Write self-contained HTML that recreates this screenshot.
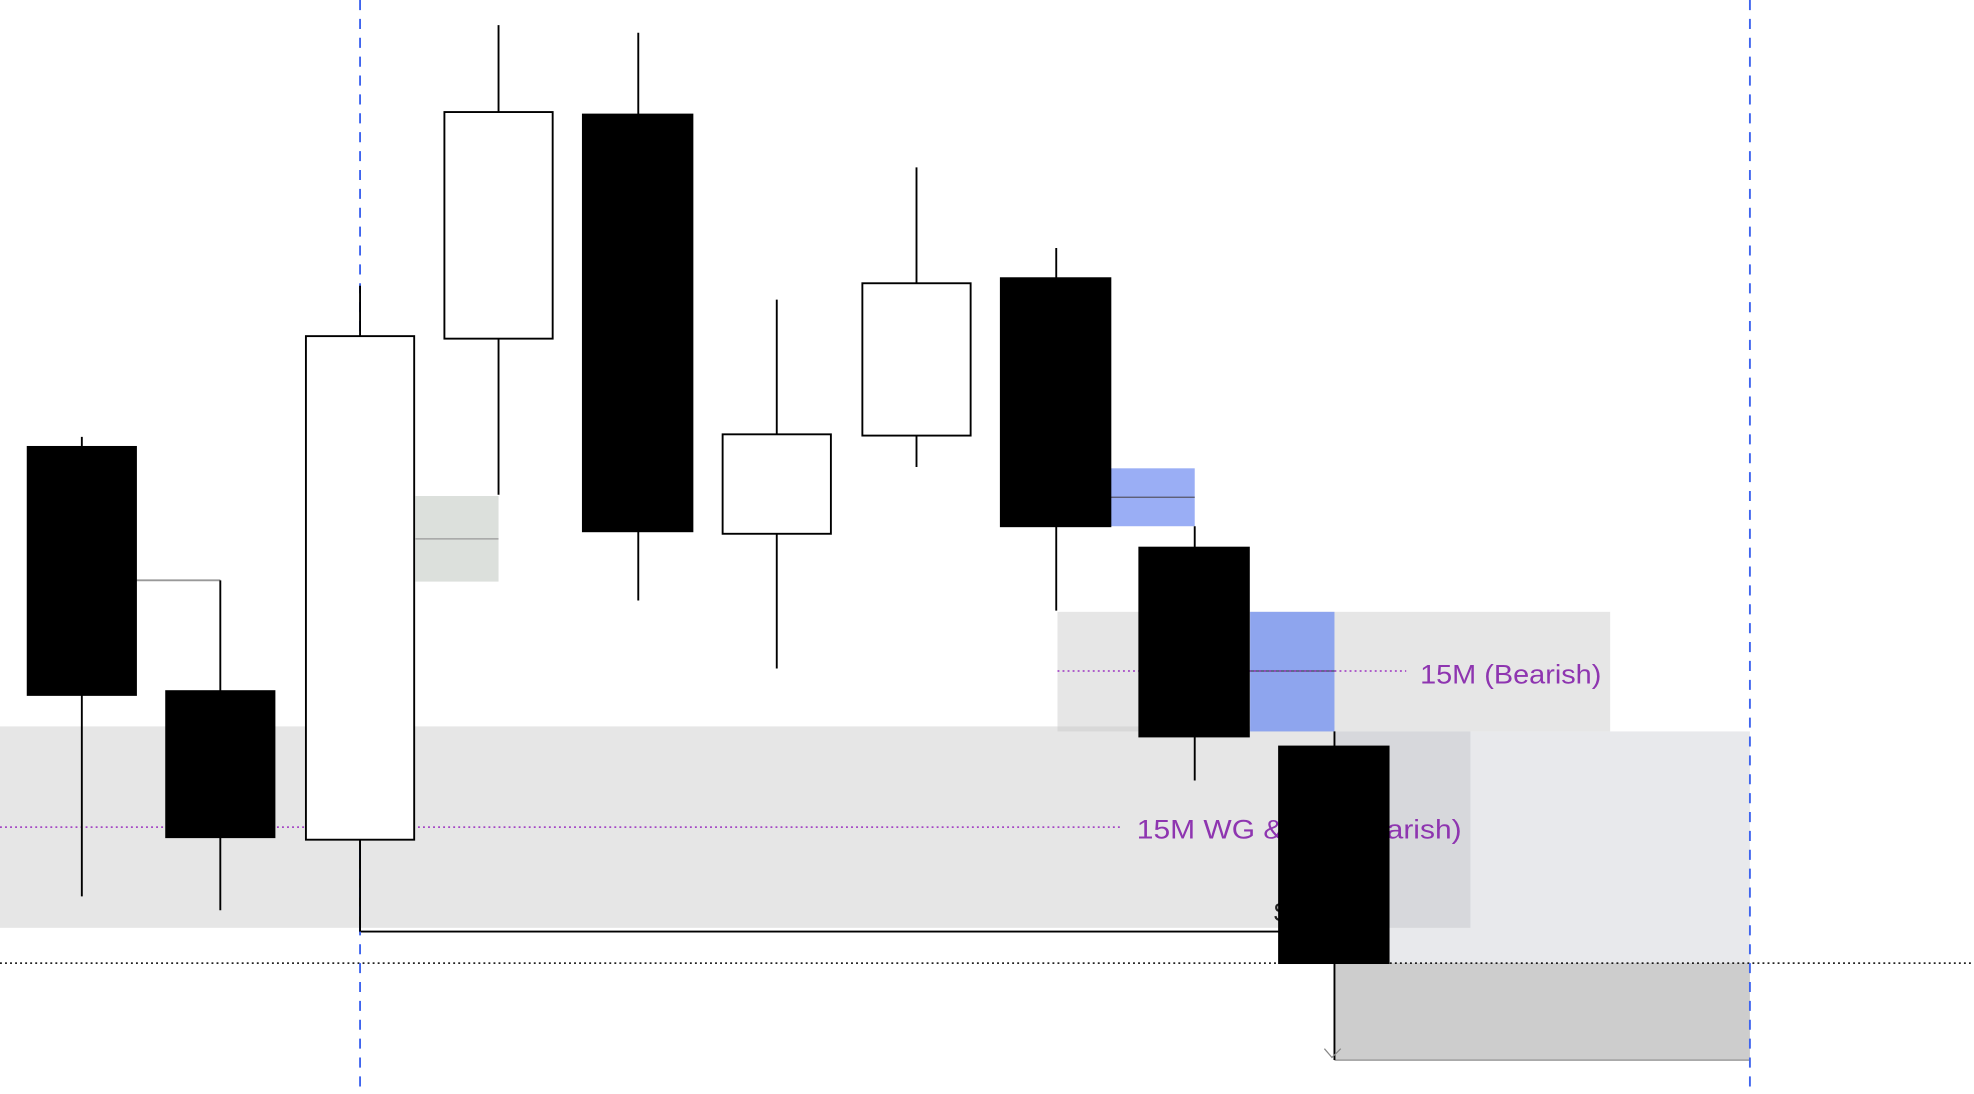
<!DOCTYPE html>
<html><head><meta charset="utf-8"><style>html,body{margin:0;padding:0;background:#fff;width:1974px;height:1094px;overflow:hidden}</style></head>
<body>
<svg width="1974" height="1094" viewBox="0 0 1568 869" preserveAspectRatio="none" xmlns="http://www.w3.org/2000/svg" font-family="Liberation Sans, sans-serif">
<rect x="0" y="0" width="1568" height="869" fill="#fff"/>
<rect x="0" y="577" width="1168" height="160" fill="#e6e6e6"/>
<rect x="1060" y="581" width="330" height="184" fill="#e8e9ec"/>
<rect x="1060" y="581" width="108" height="156" fill="#d7d8dc"/>
<rect x="840" y="486" width="439" height="95" fill="#e6e6e6"/>
<rect x="840" y="577" width="220" height="4" fill="#d8d8d8"/>
<rect x="1060" y="765" width="330" height="77" fill="#cdcdcd"/>
<line x1="1060" y1="842" x2="1390" y2="842" stroke="#aaa" stroke-width="1.5"/>
<rect x="993" y="486" width="67" height="95" fill="#8ea5ee"/>
<line x1="993" y1="533" x2="1060" y2="533" stroke="#445" stroke-width="1"/>
<rect x="882" y="372" width="67" height="46" fill="#9aaef5"/>
<line x1="882" y1="395" x2="949" y2="395" stroke="#556" stroke-width="1"/>
<rect x="330" y="394" width="66" height="68" fill="#dce0dc"/>
<line x1="330" y1="428" x2="396" y2="428" stroke="#999" stroke-width="1"/>
<line x1="108" y1="461" x2="175" y2="461" stroke="#999" stroke-width="1.5"/>
<line x1="0" y1="657" x2="890" y2="657" stroke="#9b30c0" stroke-width="1.2" stroke-dasharray="1.5,2.5"/>
<line x1="840" y1="533" x2="1117" y2="533" stroke="#9b30c0" stroke-width="1.2" stroke-dasharray="1.5,2.5"/>
<line x1="0" y1="765" x2="1568" y2="765" stroke="#000" stroke-width="1.2" stroke-dasharray="1.5,2.5"/>
<text x="903" y="666" font-size="21" fill="#8e35b0" textLength="258" lengthAdjust="spacingAndGlyphs">15M WG &amp; BB (Bearish)</text>
<text x="1128" y="543" font-size="21" fill="#8e35b0" textLength="144" lengthAdjust="spacingAndGlyphs">15M (Bearish)</text>
<text x="1012" y="732" font-size="21" fill="#222">$</text>
<polyline points="286,667 286,740 1016,740" fill="none" stroke="#000" stroke-width="1.5"/>
<line x1="286" y1="0" x2="286" y2="869" stroke="#3e64ee" stroke-width="1.5" stroke-dasharray="8,7"/>
<line x1="1390" y1="0" x2="1390" y2="869" stroke="#3e64ee" stroke-width="1.5" stroke-dasharray="8,7"/>
<g stroke="#000" stroke-width="1.5">
<line x1="65" y1="347" x2="65" y2="712"/><rect x="22" y="355" width="86" height="197" fill="#000"/>
<line x1="175" y1="461" x2="175" y2="723"/><rect x="132" y="549" width="86" height="116" fill="#000"/>
<line x1="286" y1="227" x2="286" y2="740"/><rect x="243" y="267" width="86" height="400" fill="#fff"/>
<line x1="396" y1="20" x2="396" y2="393"/><rect x="353" y="89" width="86" height="180" fill="#fff"/>
<line x1="507" y1="26" x2="507" y2="477"/><rect x="463" y="91" width="87" height="331" fill="#000"/>
<line x1="617" y1="238" x2="617" y2="531"/><rect x="574" y="345" width="86" height="79" fill="#fff"/>
<line x1="728" y1="133" x2="728" y2="371"/><rect x="685" y="225" width="86" height="121" fill="#fff"/>
<line x1="839" y1="197" x2="839" y2="485"/><rect x="795" y="221" width="87" height="197" fill="#000"/>
<line x1="949" y1="418" x2="949" y2="620"/><rect x="905" y="435" width="87" height="150" fill="#000"/>
<line x1="1060" y1="581" x2="1060" y2="842"/><rect x="1016" y="593" width="87" height="172" fill="#000"/>
</g>
<polyline points="1052,833 1058,840 1065,833" fill="none" stroke="#888" stroke-width="1"/>
</svg>
</body></html>
